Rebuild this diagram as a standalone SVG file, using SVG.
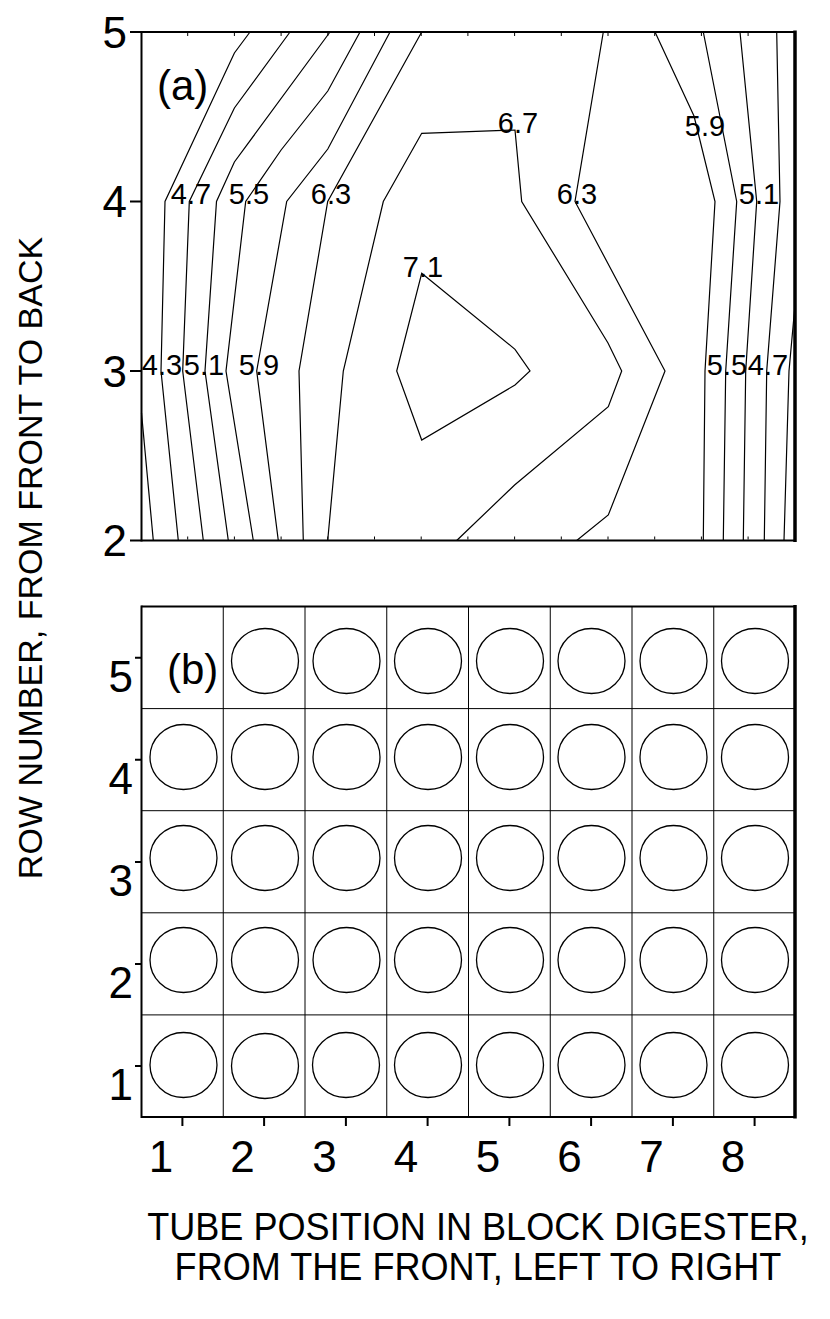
<svg xmlns="http://www.w3.org/2000/svg" width="830" height="1319" viewBox="0 0 830 1319">
<defs>
<style>
.frame{fill:none;stroke:#000;stroke-width:2}
.thick{fill:none;stroke:#000;stroke-width:3.5}
.tick{stroke:#000;stroke-width:2}
.minor{stroke:#000;stroke-width:1}
.c{fill:none;stroke:#000;stroke-width:1.2;stroke-linejoin:miter}
.grid{stroke:#000;stroke-width:1}
.tube{fill:none;stroke:#000;stroke-width:1.3}
.lab{font-family:"Liberation Sans",Arial,sans-serif;font-size:29px;fill:#000;text-anchor:middle}
.ax{font-family:"Liberation Sans",Arial,sans-serif;font-size:44px;fill:#000}
.pl{font-family:"Liberation Sans",Arial,sans-serif;font-size:42px;fill:#000}
.title{font-family:"Liberation Sans",Arial,sans-serif;font-size:38px;fill:#000;text-anchor:middle}
.ytitle{font-family:"Liberation Sans",Arial,sans-serif;font-size:34px;fill:#000;text-anchor:middle}
</style>
</defs>
<rect width="830" height="1319" fill="#fff"/>

<!-- Panel (a): contour plot -->
<g id="panel-a">
  <g id="panel-a-contours">
    <polyline class="c" points="141.5,413 153.3,540.5"/>
    <polyline class="c" points="250,32 234.4,53 165,201.5 161,371 178.3,540.5"/>
    <polyline class="c" points="290,32 234.4,108 189.3,201.5 182.7,371 203.3,540.5"/>
    <polyline class="c" points="330,32 234.4,162 216.5,201.5 205,371 228.3,540.5"/>
    <polyline class="c" points="360,32 327.8,91 281.1,150 245.7,201.5 226,371 253.3,540.5"/>
    <polyline class="c" points="390,32 327.8,149 286.7,201.5 256.7,371 278.3,540.5"/>
    <polyline class="c" points="421.7,32 327.7,201.5 299,371 303.3,540.5"/>
    <polyline class="c" points="327.7,540.5 343.3,371 383.3,201.5 421.7,133.3 515,130 521.7,201.5 608,343 621.7,371 608.3,406.7 514.6,485 456.7,540.5"/>
    <polygon class="c" points="421.7,273.3 515,349.3 530,371 515,385 421.7,440 396.7,371"/>
    <polyline class="c" points="603.3,32 575,201.5 665,371 608.3,515 576.7,540.5"/>
    <polyline class="c" points="655,32 694,116 715,201.5 705,371 703.3,540.5"/>
    <polyline class="c" points="703.3,32 736.7,201.5 725.7,371 723.3,540.5"/>
    <polyline class="c" points="740,32 756.7,201.5 745.7,371 743.3,540.5"/>
    <polyline class="c" points="776.7,32 780,201.5 766.7,371 764.3,540.5"/>
    <polyline class="c" points="795,305 789,371 784,540.5"/>
  </g>
  <g id="panel-a-labels">
    <text class="lab" x="191" y="204">4.7</text>
    <text class="lab" x="249" y="204">5.5</text>
    <text class="lab" x="331" y="204">6.3</text>
    <text class="lab" x="518" y="132.5">6.7</text>
    <text class="lab" x="423" y="277">7.1</text>
    <text class="lab" x="577" y="204">6.3</text>
    <text class="lab" x="705" y="136">5.9</text>
    <text class="lab" x="759" y="204">5.1</text>
    <text class="lab" x="162" y="375">4.3</text>
    <text class="lab" x="204" y="375">5.1</text>
    <text class="lab" x="259" y="375">5.9</text>
    <text class="lab" x="727" y="375">5.5</text>
    <text class="lab" x="768" y="375">4.7</text>
  </g>
  <g id="panel-a-frame">
    <line class="frame" x1="141.5" y1="32" x2="795" y2="32"/>
    <line class="frame" x1="141.5" y1="540.5" x2="795" y2="540.5"/>
    <line class="frame" x1="141.5" y1="31" x2="141.5" y2="541.5"/>
    <line class="thick" x1="795" y1="30.5" x2="795" y2="542"/>
    <path class="minor" d="M187.7,33v3M234.4,33v3M281.1,33v3M327.8,33v3M374.5,33v3M421.2,33v3M467.9,33v3M514.6,33v3M561.3,33v3M608,33v3M654.7,33v3M701.4,33v3M748.1,33v3M187.7,539.5v-3M234.4,539.5v-3M281.1,539.5v-3M327.8,539.5v-3M374.5,539.5v-3M421.2,539.5v-3M467.9,539.5v-3M514.6,539.5v-3M561.3,539.5v-3M608,539.5v-3M654.7,539.5v-3M701.4,539.5v-3M748.1,539.5v-3"/>
    <path class="tick" d="M130,32H141.5M130,201.5H141.5M130,371H141.5M130,540.5H141.5"/>
  </g>
  <g id="panel-a-axis-labels">
    <text class="ax" x="127" y="47.5" text-anchor="end">5</text>
    <text class="ax" x="127" y="217" text-anchor="end">4</text>
    <text class="ax" x="127" y="386.5" text-anchor="end">3</text>
    <text class="ax" x="127" y="556" text-anchor="end">2</text>
  </g>
  <text class="pl" x="157" y="100">(a)</text>
</g>

<!-- Panel (b): tube layout -->
<g id="panel-b">
  <g id="panel-b-grid">
    <path class="grid" d="M223.25,606.5V1117M305,606.5V1117M386.75,606.5V1117M468.5,606.5V1117M550.25,606.5V1117M632,606.5V1117M713.75,606.5V1117M141.5,708.6H795M141.5,810.7H795M141.5,912.8H795M141.5,1014.9H795"/>
  </g>
  <g id="panel-b-frame">
    <line class="frame" x1="141.5" y1="606.5" x2="795" y2="606.5"/>
    <line class="frame" x1="141.5" y1="1117" x2="795" y2="1117"/>
    <line class="frame" x1="141.5" y1="605.5" x2="141.5" y2="1118"/>
    <line class="thick" x1="795" y1="605" x2="795" y2="1118.5"/>
    <path class="tick" d="M135,657.7H141.5M135,759.8H141.5M135,861.9H141.5M135,963.9H141.5M135,1066H141.5"/>
    <path class="tick" d="M182.4,1117V1126M264.1,1117V1126M345.9,1117V1126M427.6,1117V1126M509.4,1117V1126M591.1,1117V1126M672.9,1117V1126M754.6,1117V1126"/>
  </g>
  <text class="pl" x="167" y="683.5">(b)</text>
  <g id="tubes-row5">
    <g id="tube-r5-c2"><ellipse class="tube" cx="265" cy="661" rx="33.5" ry="32.5"/></g>
    <g id="tube-r5-c3"><ellipse class="tube" cx="346.5" cy="661" rx="33.5" ry="32.5"/></g>
    <g id="tube-r5-c4"><ellipse class="tube" cx="428" cy="661" rx="33.5" ry="32.5"/></g>
    <g id="tube-r5-c5"><ellipse class="tube" cx="510" cy="661" rx="33.5" ry="32.5"/></g>
    <g id="tube-r5-c6"><ellipse class="tube" cx="591.5" cy="661" rx="33.5" ry="32.5"/></g>
    <g id="tube-r5-c7"><ellipse class="tube" cx="673.5" cy="661" rx="33.5" ry="32.5"/></g>
    <g id="tube-r5-c8"><ellipse class="tube" cx="755" cy="661" rx="33.5" ry="32.5"/></g>
  </g>
  <g id="tubes-row4">
    <g id="tube-r4-c1"><ellipse class="tube" cx="183.5" cy="757" rx="33.5" ry="32.5"/></g>
    <g id="tube-r4-c2"><ellipse class="tube" cx="265" cy="757" rx="33.5" ry="32.5"/></g>
    <g id="tube-r4-c3"><ellipse class="tube" cx="346.5" cy="757" rx="33.5" ry="32.5"/></g>
    <g id="tube-r4-c4"><ellipse class="tube" cx="428" cy="757" rx="33.5" ry="32.5"/></g>
    <g id="tube-r4-c5"><ellipse class="tube" cx="510" cy="757" rx="33.5" ry="32.5"/></g>
    <g id="tube-r4-c6"><ellipse class="tube" cx="591.5" cy="757" rx="33.5" ry="32.5"/></g>
    <g id="tube-r4-c7"><ellipse class="tube" cx="673.5" cy="757" rx="33.5" ry="32.5"/></g>
    <g id="tube-r4-c8"><ellipse class="tube" cx="755" cy="757" rx="33.5" ry="32.5"/></g>
  </g>
  <g id="tubes-row3">
    <g id="tube-r3-c1"><ellipse class="tube" cx="183.5" cy="858" rx="33.5" ry="32.5"/></g>
    <g id="tube-r3-c2"><ellipse class="tube" cx="265" cy="858" rx="33.5" ry="32.5"/></g>
    <g id="tube-r3-c3"><ellipse class="tube" cx="346.5" cy="858" rx="33.5" ry="32.5"/></g>
    <g id="tube-r3-c4"><ellipse class="tube" cx="428" cy="858" rx="33.5" ry="32.5"/></g>
    <g id="tube-r3-c5"><ellipse class="tube" cx="510" cy="858" rx="33.5" ry="32.5"/></g>
    <g id="tube-r3-c6"><ellipse class="tube" cx="591.5" cy="858" rx="33.5" ry="32.5"/></g>
    <g id="tube-r3-c7"><ellipse class="tube" cx="673.5" cy="858" rx="33.5" ry="32.5"/></g>
    <g id="tube-r3-c8"><ellipse class="tube" cx="755" cy="858" rx="33.5" ry="32.5"/></g>
  </g>
  <g id="tubes-row2">
    <g id="tube-r2-c1"><ellipse class="tube" cx="183.5" cy="960" rx="33.5" ry="32.5"/></g>
    <g id="tube-r2-c2"><ellipse class="tube" cx="265" cy="960" rx="33.5" ry="32.5"/></g>
    <g id="tube-r2-c3"><ellipse class="tube" cx="346.5" cy="960" rx="33.5" ry="32.5"/></g>
    <g id="tube-r2-c4"><ellipse class="tube" cx="428" cy="960" rx="33.5" ry="32.5"/></g>
    <g id="tube-r2-c5"><ellipse class="tube" cx="510" cy="960" rx="33.5" ry="32.5"/></g>
    <g id="tube-r2-c6"><ellipse class="tube" cx="591.5" cy="960" rx="33.5" ry="32.5"/></g>
    <g id="tube-r2-c7"><ellipse class="tube" cx="673.5" cy="960" rx="33.5" ry="32.5"/></g>
    <g id="tube-r2-c8"><ellipse class="tube" cx="755" cy="960" rx="33.5" ry="32.5"/></g>
  </g>
  <g id="tubes-row1">
    <g id="tube-r1-c1"><ellipse class="tube" cx="183.5" cy="1065" rx="33.5" ry="32.5"/></g>
    <g id="tube-r1-c2"><ellipse class="tube" cx="265" cy="1066" rx="33.5" ry="32.5"/></g>
    <g id="tube-r1-c3"><ellipse class="tube" cx="346" cy="1065" rx="33.5" ry="32.5"/></g>
    <g id="tube-r1-c4"><ellipse class="tube" cx="428" cy="1065" rx="33.5" ry="32.5"/></g>
    <g id="tube-r1-c5"><ellipse class="tube" cx="510" cy="1065" rx="33.5" ry="32.5"/></g>
    <g id="tube-r1-c6"><ellipse class="tube" cx="591.5" cy="1065" rx="33.5" ry="32.5"/></g>
    <g id="tube-r1-c7"><ellipse class="tube" cx="673.5" cy="1065" rx="33.5" ry="32.5"/></g>
    <g id="tube-r1-c8"><ellipse class="tube" cx="755" cy="1065" rx="33.5" ry="32.5"/></g>
  </g>
  <g id="panel-b-axis-labels">
    <text class="ax" x="133" y="692" text-anchor="end">5</text>
    <text class="ax" x="133" y="794" text-anchor="end">4</text>
    <text class="ax" x="133" y="896" text-anchor="end">3</text>
    <text class="ax" x="133" y="998" text-anchor="end">2</text>
    <text class="ax" x="133" y="1100" text-anchor="end">1</text>
    <text class="ax" x="161" y="1172" text-anchor="middle">1</text>
    <text class="ax" x="242.6" y="1172" text-anchor="middle">2</text>
    <text class="ax" x="324.4" y="1172" text-anchor="middle">3</text>
    <text class="ax" x="406.1" y="1172" text-anchor="middle">4</text>
    <text class="ax" x="487.9" y="1172" text-anchor="middle">5</text>
    <text class="ax" x="569.6" y="1172" text-anchor="middle">6</text>
    <text class="ax" x="651.4" y="1172" text-anchor="middle">7</text>
    <text class="ax" x="733.1" y="1172" text-anchor="middle">8</text>
  </g>
</g>

<g id="axis-titles">
  <text class="ytitle" transform="rotate(-90 42 558)" x="42" y="558">ROW NUMBER, FROM FRONT TO BACK</text>
  <text class="title" transform="translate(478 1240) scale(0.95 1)" x="0" y="0">TUBE POSITION IN BLOCK DIGESTER,</text>
  <text class="title" transform="translate(478 1280) scale(0.95 1)" x="0" y="0">FROM THE FRONT, LEFT TO RIGHT</text>
</g>
</svg>
